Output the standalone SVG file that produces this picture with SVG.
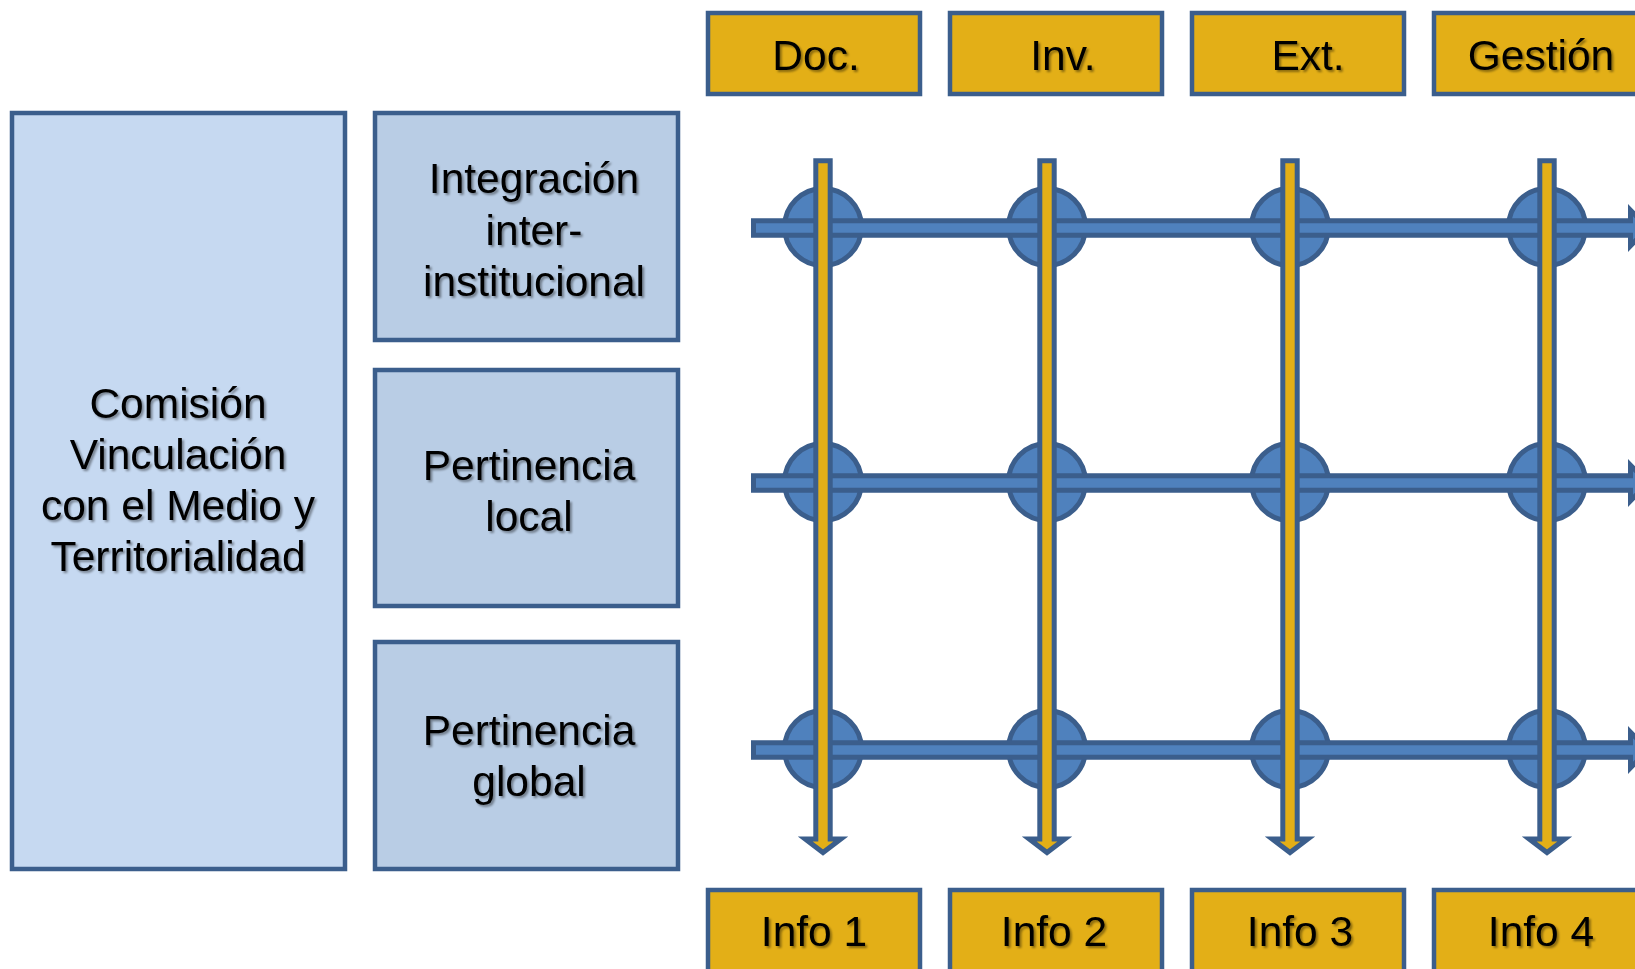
<svg xmlns="http://www.w3.org/2000/svg" width="1635" height="969" viewBox="0 0 1635 969">
<style>
.box{stroke:#3B5E8C;stroke-width:4.5}
.gold{fill:#E3AF17}
.big{fill:#C6D9F1}
.mid{fill:#B9CDE5}
.t{font-family:"Liberation Sans",Arial,sans-serif;font-size:42.5px;fill:#000;text-anchor:middle}
.hbar{fill:#4F81BD;stroke:#3B5E8C;stroke-width:5;stroke-linejoin:miter}
.vbar{fill:#E3AF17;stroke:#3B5E8C;stroke-width:5;stroke-linejoin:miter}
.node{fill:#4F81BD;stroke:#3B5E8C;stroke-width:5}
</style>
<defs>
<filter id="sh" x="-10%" y="-20%" width="130%" height="150%">
<feDropShadow dx="2" dy="2" stdDeviation="1.2" flood-color="#000" flood-opacity="0.4"/>
</filter>
<path id="harrow" d="M753.5,-7.2 H1630.5 V-17.8 L1648,0 L1630.5,17.8 V7.2 H753.5 Z"/>
<path id="varrow" d="M-7.2,160.8 H7.2 V839 H17.8 L0,852.5 L-17.8,839 H-7.2 Z"/>
</defs>
<rect width="1635" height="969" fill="#FFFFFF"/>

<g id="comision">
<rect class="box big" x="12" y="113" width="333" height="756"/>
<g class="t" filter="url(#sh)">
<text x="178" y="418">Comisión</text>
<text x="178" y="469">Vinculación</text>
<text x="178" y="520">con el Medio y</text>
<text x="178" y="571">Territorialidad</text>
</g>
</g>

<g id="integracion">
<rect class="box mid" x="375" y="113" width="303" height="227"/>
<g class="t" filter="url(#sh)">
<text x="534" y="193">Integración</text>
<text x="534" y="245">inter-</text>
<text x="534" y="296">institucional</text>
</g>
</g>

<g id="pertinencia-local">
<rect class="box mid" x="375" y="370" width="303" height="236"/>
<g class="t" filter="url(#sh)">
<text x="529" y="480">Pertinencia</text>
<text x="529" y="531">local</text>
</g>
</g>

<g id="pertinencia-global">
<rect class="box mid" x="375" y="642" width="303" height="227"/>
<g class="t" filter="url(#sh)">
<text x="529" y="745">Pertinencia</text>
<text x="529" y="796">global</text>
</g>
</g>

<g id="doc"><rect class="box gold" x="708" y="13" width="212" height="81"/><text class="t" filter="url(#sh)" x="816" y="70">Doc.</text></g>
<g id="inv"><rect class="box gold" x="950" y="13" width="212" height="81"/><text class="t" filter="url(#sh)" x="1063" y="70">Inv.</text></g>
<g id="ext"><rect class="box gold" x="1192" y="13" width="212" height="81"/><text class="t" filter="url(#sh)" x="1308" y="70">Ext.</text></g>
<g id="gestion"><rect class="box gold" x="1434" y="13" width="220" height="81"/><text class="t" filter="url(#sh)" x="1541" y="70">Gestión</text></g>

<g id="info1"><rect class="box gold" x="708" y="890" width="212" height="90"/><text class="t" filter="url(#sh)" x="814" y="946">Info 1</text></g>
<g id="info2"><rect class="box gold" x="950" y="890" width="212" height="90"/><text class="t" filter="url(#sh)" x="1054" y="946">Info 2</text></g>
<g id="info3"><rect class="box gold" x="1192" y="890" width="212" height="90"/><text class="t" filter="url(#sh)" x="1300" y="946">Info 3</text></g>
<g id="info4"><rect class="box gold" x="1434" y="890" width="220" height="90"/><text class="t" filter="url(#sh)" x="1541" y="946">Info 4</text></g>

<g id="connectors">
<g id="junctions">
<circle class="node" cx="823" cy="227" r="38.5"/>
<circle class="node" cx="1047" cy="227" r="38.5"/>
<circle class="node" cx="1290" cy="227" r="38.5"/>
<circle class="node" cx="1547" cy="227" r="38.5"/>
<circle class="node" cx="823" cy="482" r="38.5"/>
<circle class="node" cx="1047" cy="482" r="38.5"/>
<circle class="node" cx="1290" cy="482" r="38.5"/>
<circle class="node" cx="1547" cy="482" r="38.5"/>
<circle class="node" cx="823" cy="749" r="38.5"/>
<circle class="node" cx="1047" cy="749" r="38.5"/>
<circle class="node" cx="1290" cy="749" r="38.5"/>
<circle class="node" cx="1547" cy="749" r="38.5"/>
</g>
<use href="#harrow" class="hbar" transform="translate(0,228)"/>
<use href="#harrow" class="hbar" transform="translate(0,483)"/>
<use href="#harrow" class="hbar" transform="translate(0,750)"/>
<use href="#varrow" class="vbar" transform="translate(823,0)"/>
<use href="#varrow" class="vbar" transform="translate(1047,0)"/>
<use href="#varrow" class="vbar" transform="translate(1290,0)"/>
<use href="#varrow" class="vbar" transform="translate(1547,0)"/>
</g>
</svg>
